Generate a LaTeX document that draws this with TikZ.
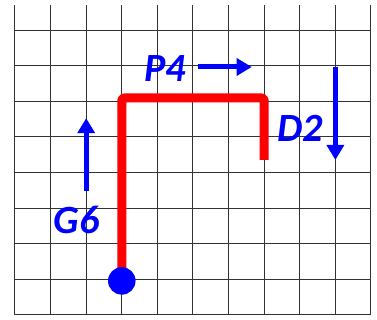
\documentclass[tikz,border=0pt]{standalone}
\usepackage{tikz}
\usetikzlibrary{arrows.meta}
\usepackage{fontspec}
\setmainfont{Carlito}

\begin{document}
\begin{tikzpicture}[x=1cm, y=0.8708cm, >={Triangle[length=12pt,width=13.5pt]},
  movelabel/.style={text=blue, font=\fontsize{32}{36}\selectfont\bfseries\itshape, inner sep=0pt},
  movearrow/.style={blue, line width=4pt, ->}]
  \useasboundingbox (-0.421,-0.161) rectangle (10.169,10.161);
  %% Squared paper
  \draw[black!80, line width=0.8pt] (0,0) grid (10,10);

  %% Path walked on the grid
  \draw[red, line width=7.2pt, line join=round, rounded corners=2pt]
    (3,1.1) -- (3,7) -- (7,7) -- (7,5);
  \fill[blue] (3,1.1) circle (11pt);

  %% Move labels
  \node[movelabel] (p4) at (4.21,7.95) {P4};
  \node[movelabel] (d2) at (8.00,6.03) {D2};
  \node[movelabel] (g6) at (1.73,3.06) {G6};

  %% Direction arrows
  \draw[movearrow] (5.15,8) -- (6.65,8);
  \draw[movearrow] (9,8) -- (9,5);
  \draw[movearrow] (2,4) -- (2,6.35);
\end{tikzpicture}
\end{document}
